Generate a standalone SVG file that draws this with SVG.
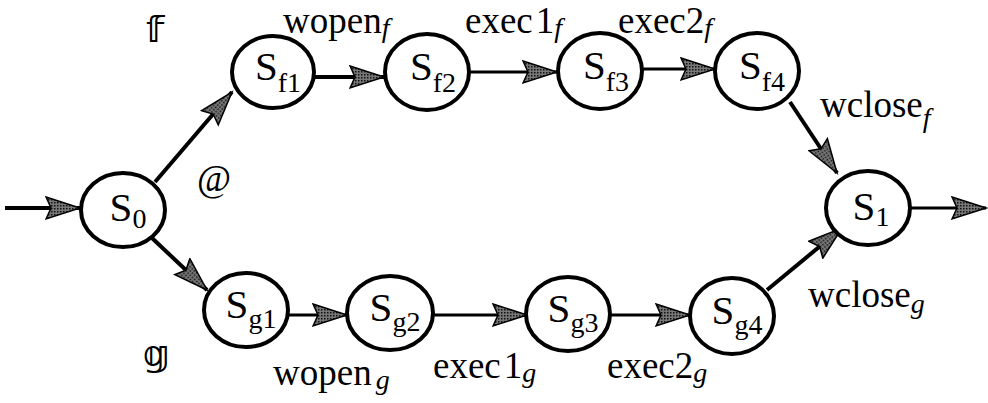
<svg xmlns="http://www.w3.org/2000/svg" width="988" height="403" viewBox="0 0 988 403">
<style>
.node ellipse{fill:#fff;stroke:#000;stroke-width:4}
.st{font-family:"Liberation Serif","DejaVu Serif",serif;font-size:41px;fill:#000}
.sub{font-size:28px}
.lbl{font-family:"Liberation Serif","DejaVu Serif",serif;font-size:37px;fill:#000}
.isub{font-size:28px;font-style:italic}
.dbl{font-family:"DejaVu Sans","DejaVu Serif",sans-serif;font-size:36px;font-weight:bold;fill:#000}
.edge{stroke:#000;stroke-width:4;fill:none;marker-end:url(#ah)}
.thin{stroke-width:3}
</style>
<defs>
<pattern id="dots" width="3" height="3" patternUnits="userSpaceOnUse">
<rect width="3" height="3" fill="#777"/>
<rect width="1.5" height="1.5" fill="#111"/>
</pattern>
<marker id="ah" markerUnits="userSpaceOnUse" markerWidth="38" markerHeight="26" refX="35" refY="12" orient="auto" viewBox="0 0 38 26">
<path d="M1,1 L35,12 L1,23 L6,12 Z" fill="url(#dots)" stroke="#000" stroke-width="1.5"/>
</marker>
</defs>
<g id="connectors">
<path class="edge" d="M5,208 L80,208"/>
<path class="edge" d="M155,182 L232,92"/>
<path class="edge" d="M315,77 L384,77"/>
<path class="edge thin" d="M470,72 L557,72"/>
<path class="edge thin" d="M643,69 L715,69"/>
<path class="edge" d="M790,102 L837,173"/>
<path class="edge" d="M152,238 L207,290"/>
<path class="edge thin" d="M288,315 L347,315"/>
<path class="edge thin" d="M433,315 L527,315"/>
<path class="edge thin" d="M610,315 L690,315"/>
<path class="edge" d="M767,290 L842,228"/>
<path class="edge thin" d="M910,208 L986,208"/>
</g>
<g id="S0" class="node"><ellipse cx="123" cy="210" rx="42" ry="37"/><text class="st" x="128" y="221" text-anchor="middle">S<tspan class="sub" dy="7">0</tspan></text></g>
<g id="Sf1" class="node"><ellipse cx="273" cy="72" rx="41" ry="36"/><text class="st" x="278" y="80" text-anchor="middle">S<tspan class="sub" dy="12">f1</tspan></text></g>
<g id="Sf2" class="node"><ellipse cx="427" cy="72" rx="42" ry="38"/><text class="st" x="433" y="80" text-anchor="middle">S<tspan class="sub" dy="12">f2</tspan></text></g>
<g id="Sf3" class="node"><ellipse cx="600" cy="71" rx="42" ry="38"/><text class="st" x="606" y="79" text-anchor="middle">S<tspan class="sub" dy="12">f3</tspan></text></g>
<g id="Sf4" class="node"><ellipse cx="757" cy="71" rx="42" ry="38"/><text class="st" x="762" y="79" text-anchor="middle">S<tspan class="sub" dy="12">f4</tspan></text></g>
<g id="S1" class="node"><ellipse cx="868" cy="208" rx="42" ry="37"/><text class="st" x="871" y="220" text-anchor="middle">S<tspan class="sub" dy="6">1</tspan></text></g>
<g id="Sg1" class="node"><ellipse cx="246" cy="310" rx="42" ry="37"/><text class="st" x="251" y="318" text-anchor="middle">S<tspan class="sub" dy="10">g1</tspan></text></g>
<g id="Sg2" class="node"><ellipse cx="390" cy="313" rx="43" ry="37"/><text class="st" x="395" y="321" text-anchor="middle">S<tspan class="sub" dy="10">g2</tspan></text></g>
<g id="Sg3" class="node"><ellipse cx="568" cy="314" rx="42" ry="37"/><text class="st" x="573" y="322" text-anchor="middle">S<tspan class="sub" dy="10">g3</tspan></text></g>
<g id="Sg4" class="node"><ellipse cx="732" cy="316" rx="42" ry="38"/><text class="st" x="737" y="324" text-anchor="middle">S<tspan class="sub" dy="10">g4</tspan></text></g>
<g id="labels">
<text class="dbl" x="146" y="42">𝕗</text>
<text class="dbl" x="143" y="366">𝕘</text>
<text class="lbl" x="197" y="191">@</text>
<text class="lbl" x="283" y="33">wopen<tspan class="isub" dy="4">f</tspan></text>
<text class="lbl" x="465" y="33">exec<tspan dx="3">1</tspan><tspan class="isub" dy="4">f</tspan></text>
<text class="lbl" x="618" y="33">exec2<tspan class="isub" dy="4">f</tspan></text>
<text class="lbl" x="820" y="117">wclose<tspan class="isub" dy="10">f</tspan></text>
<text class="lbl" x="273" y="385">wopen<tspan class="isub" dx="4" dy="4">g</tspan></text>
<text class="lbl" x="433" y="378">exec<tspan dx="3">1</tspan><tspan class="isub" dy="4">g</tspan></text>
<text class="lbl" x="607" y="378">exec2<tspan class="isub" dy="4">g</tspan></text>
<text class="lbl" x="808" y="307">wclose<tspan class="isub" dy="6">g</tspan></text>
</g>
</svg>
